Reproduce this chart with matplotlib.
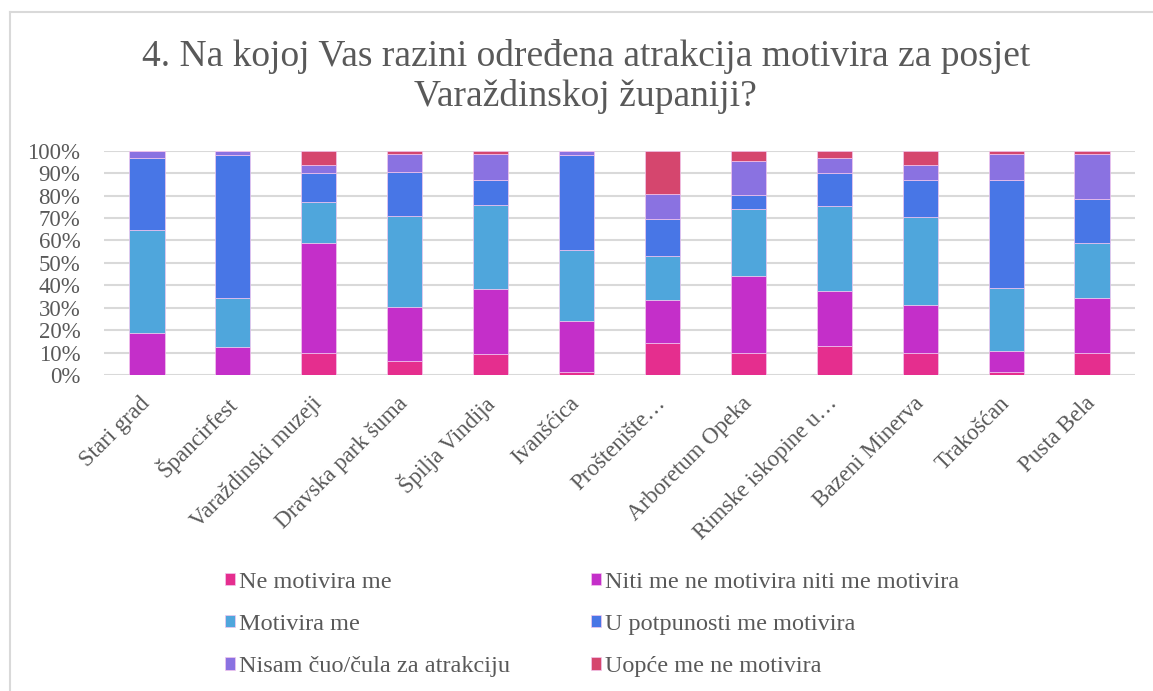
import matplotlib
matplotlib.use('Agg')
import matplotlib.pyplot as plt
from matplotlib.lines import Line2D
from matplotlib.ticker import PercentFormatter

plt.rcParams['font.family'] = ['Liberation Serif', 'DejaVu Serif']

# categories (attractions)
attractions = ['Stari grad', 'Špancirfest', 'Varaždinski muzeji', 'Dravska park šuma',
               'Špilja Vindija', 'Ivanšćica', 'Proštenište…', 'Arboretum Opeka',
               'Rimske iskopine u…', 'Bazeni Minerva', 'Trakošćan', 'Pusta Bela']

# shares in % per answer
ne_motivira = [0, 0, 9.8, 6.2, 9.5, 1.3, 14.2, 9.8, 12.9, 9.8, 1.3, 9.8]
niti_niti = [19.0, 12.8, 49.1, 24.2, 29.1, 23.0, 19.5, 34.3, 24.6, 21.4, 9.7, 24.5]
motivira = [45.5, 21.5, 18.1, 40.4, 37.2, 31.5, 19.4, 29.9, 37.9, 39.3, 27.9, 24.6]
u_potpunosti = [32.4, 63.9, 13.2, 19.6, 11.3, 42.4, 16.3, 6.3, 14.8, 16.3, 48.2, 19.7]
nisam_cuo = [3.1, 1.8, 3.3, 8.0, 11.3, 1.8, 11.2, 15.0, 6.5, 6.7, 11.3, 19.8]
uopce_ne = [0, 0, 6.5, 1.6, 1.6, 0, 19.4, 4.7, 3.3, 6.5, 1.6, 1.6]

series = [
    ('Ne motivira me', ne_motivira, '#E52E8E'),
    ('Niti me ne motivira niti me motivira', niti_niti, '#C42FC9'),
    ('Motivira me', motivira, '#4FA6DC'),
    ('U potpunosti me motivira', u_potpunosti, '#4876E6'),
    ('Nisam čuo/čula za atrakciju', nisam_cuo, '#8A72E1'),
    ('Uopće me ne motivira', uopce_ne, '#D5466E'),
]

text_color = '#595959'
W, H = 1153, 691
fig = plt.figure(figsize=(W / 100, H / 100), dpi=100)
ax = fig.add_axes([104 / W, 1 - 375.3 / H, (1135 - 104) / W, (375.3 - 150.6) / H])

x = list(range(len(attractions)))
bottom = [0.0] * len(attractions)
handles = []
for label, vals, color in series:
    b = ax.bar(x, vals, 0.41, bottom=bottom, color=color, edgecolor='#F3C6EE',
               linewidth=0.5, label=label, zorder=3)
    handles.append(b)
    bottom = [bt + v for bt, v in zip(bottom, vals)]

ax.set_xlim(-0.5, len(attractions) - 0.5)
ax.set_ylim(0, 100)
ax.set_yticks(range(0, 101, 10))
ax.yaxis.set_major_formatter(PercentFormatter(decimals=0))
ax.grid(axis='y', color='#D9D9D9', linewidth=1.5, zorder=0)
for s in ax.spines.values():
    s.set_visible(False)
ax.tick_params(length=0, labelsize=16.5, labelcolor=text_color)
ax.tick_params(axis='y', pad=17)
ax.set_xticks(x)
ax.set_xticklabels(attractions, rotation=45, ha='right', va='center', rotation_mode='anchor')
ax.tick_params(axis='x', pad=18)

fig.suptitle('4. Na kojoj Vas razini određena atrakcija motivira za posjet\nVaraždinskoj županiji?',
             x=0.508, y=1 - 39 / H, va='top', fontsize=27, color=text_color, linespacing=1.2)

# legend in row order
order = [0, 2, 4, 1, 3, 5]
leg = fig.legend([handles[i] for i in order], [series[i][0] for i in order],
                 ncol=2, loc='upper left', bbox_to_anchor=(203 / W, 1 - 550 / H),
                 frameon=False, fontsize=17.5, handlelength=0.4, handleheight=0.4,
                 handletextpad=0.2, columnspacing=3.3, labelspacing=0.87, labelcolor=text_color)

# chart border
fig.add_artist(Line2D([10 / W, 10 / W], [0, 1 - 12 / H], color='#D9D9D9', linewidth=1.5))
fig.add_artist(Line2D([10 / W, 1], [1 - 12 / H, 1 - 12 / H], color='#D9D9D9', linewidth=1.5))

fig.savefig('out.png', dpi=100)
